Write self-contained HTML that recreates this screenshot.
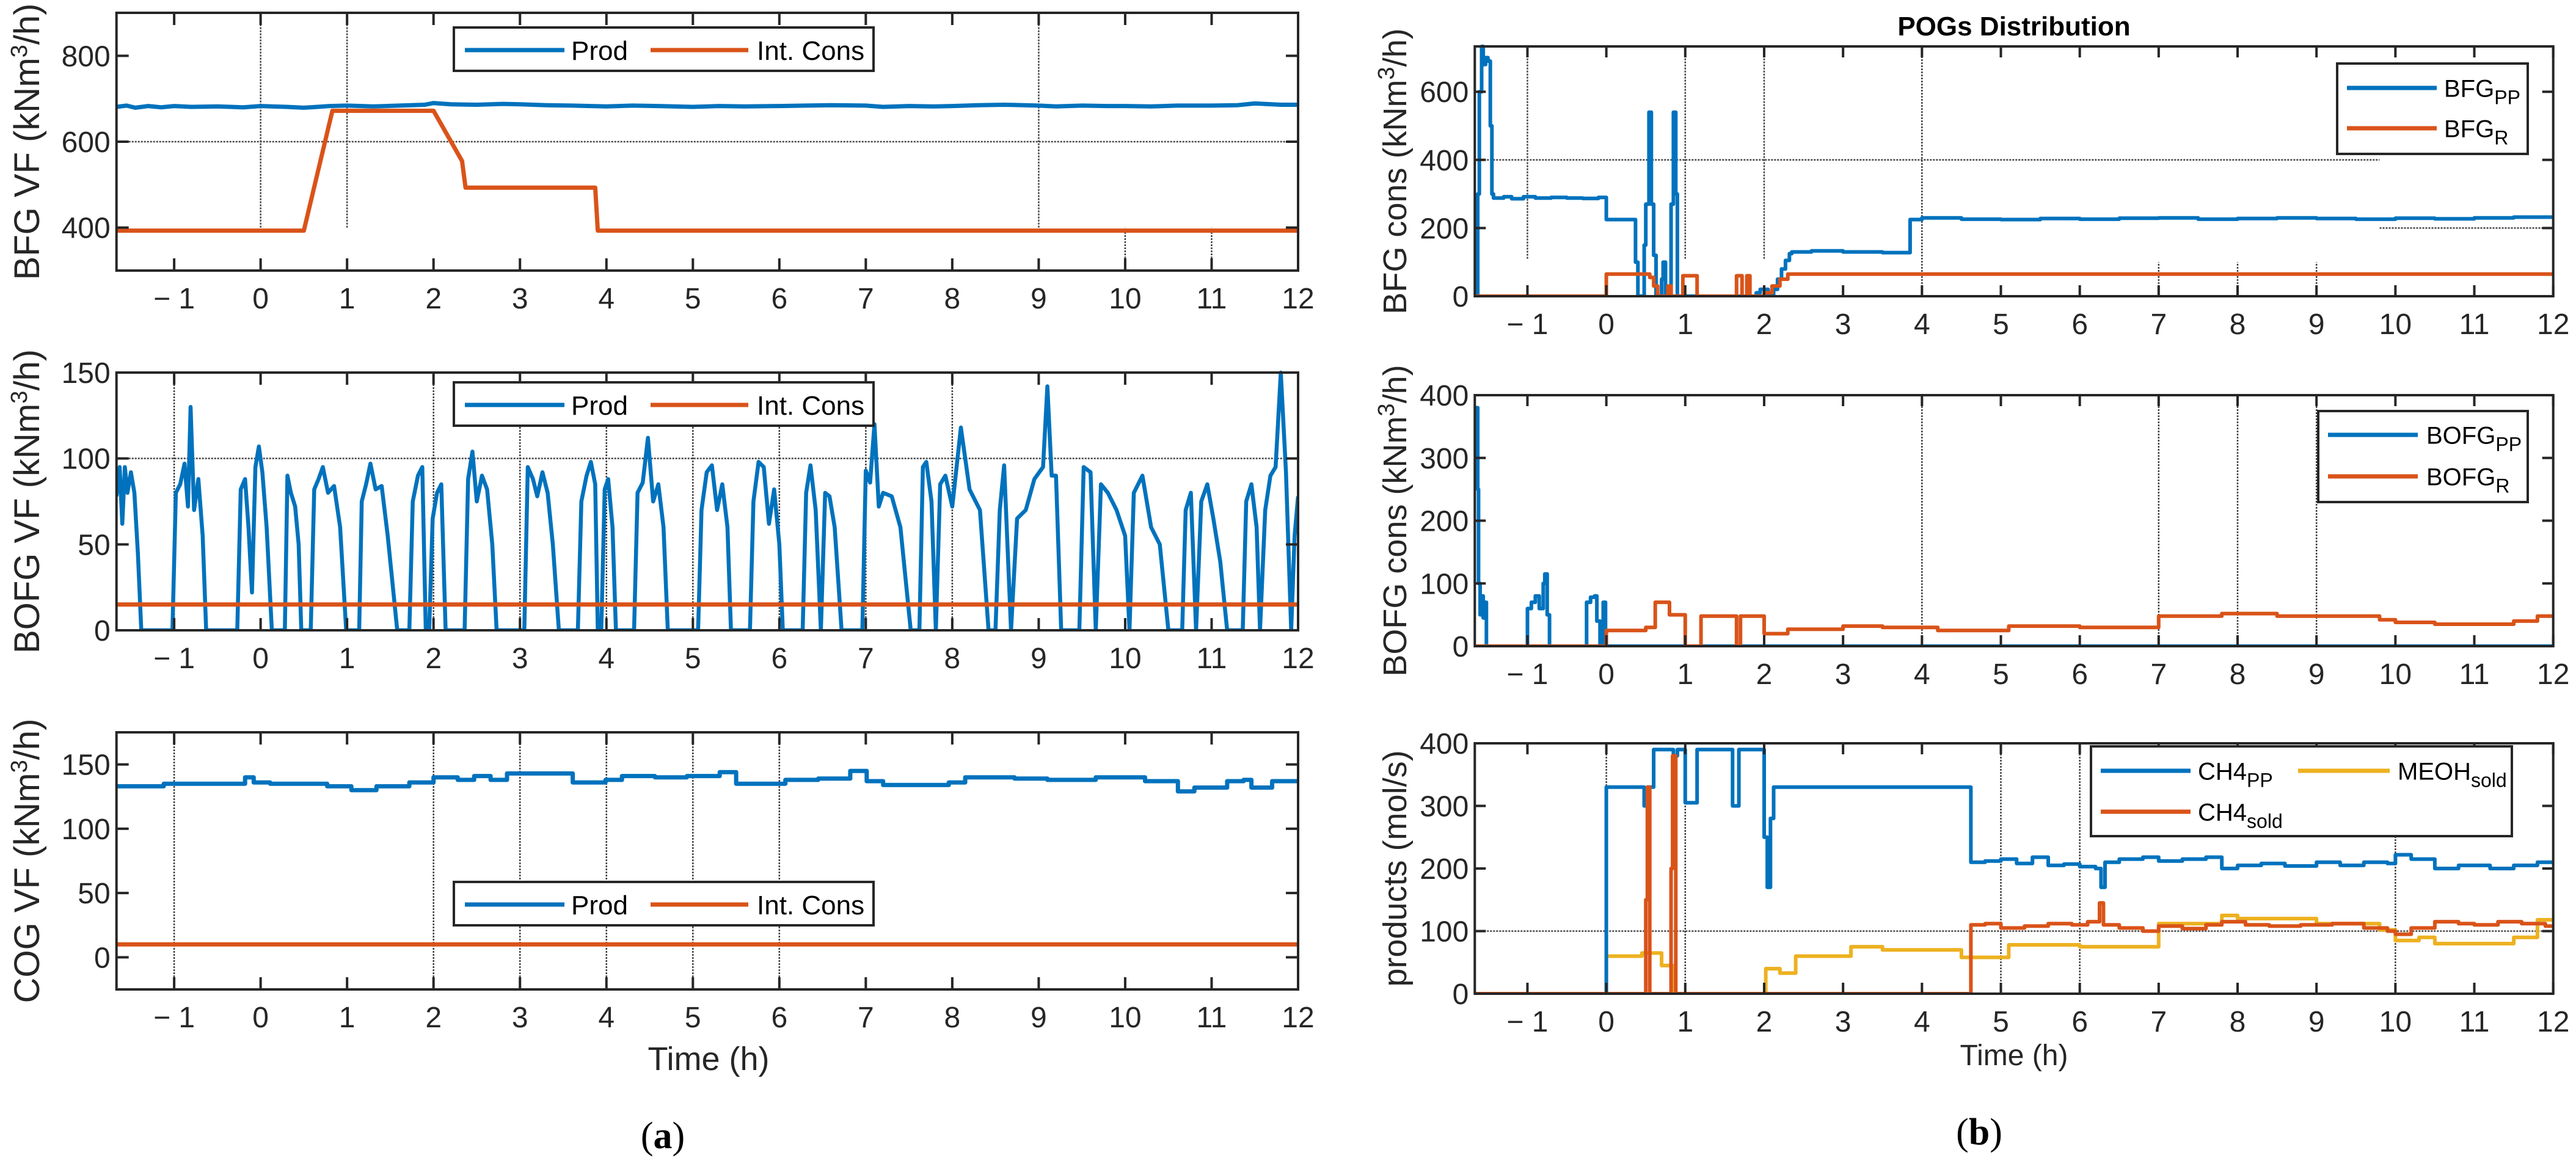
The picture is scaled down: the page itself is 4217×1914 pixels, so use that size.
<!DOCTYPE html>
<html><head><meta charset="utf-8"><style>
html,body{margin:0;padding:0;background:#fff;}
svg{display:block;font-family:"Liberation Sans",Arial,sans-serif;}
</style></head><body>
<svg id="fig" width="4217" height="1914" viewBox="0 0 4217 1914" xmlns="http://www.w3.org/2000/svg">
<rect width="4217" height="1914" fill="#fff"/>
</svg>
<script>
// ---------- data ----------
const xTicks=[-1,0,1,2,3,4,5,6,7,8,9,10,11,12];
const bfgProd=[[-1.667,681],[-1.55,684],[-1.45,679],[-1.3,683],[-1.15,680],[-1,683],[-0.8,681],[-0.5,682],[-0.2,680],[0,683],[0.3,681],[0.5,679],[0.8,683],[1,684],[1.3,682],[1.6,684],[1.9,686],[2,690],[2.2,687],[2.5,686],[2.8,688],[3,687],[3.3,685],[3.6,684],[4,682],[4.3,684],[4.6,683],[5,681],[5.3,683],[5.6,682],[6,683],[6.3,684],[6.6,685],[7,684],[7.2,681],[7.5,683],[7.8,682],[8,683],[8.3,685],[8.6,686],[9,684],[9.2,682],[9.5,684],[9.8,683],[10,683],[10.3,682],[10.6,684],[11,684],[11.3,685],[11.5,689],[11.8,686],[12,686]];
const bfgCons=[[-1.667,393],[0.5,393],[0.83,672],[2.0,672],[2.33,555],[2.37,493],[3.87,493],[3.9,393],[12,393]];
const bofgProd=[[-1.667,78],[-1.63,95],[-1.6,62],[-1.57,95],[-1.54,80],[-1.5,92],[-1.46,80],[-1.42,45],[-1.38,0],
[-1.02,0],[-0.98,80],[-0.93,85],[-0.88,97],[-0.84,72],[-0.81,130],[-0.77,70],[-0.72,88],[-0.67,55],[-0.63,0],
[-0.27,0],[-0.23,82],[-0.18,88],[-0.14,60],[-0.1,22],[-0.06,95],[-0.02,107],[0.02,92],[0.07,60],[0.13,0],
[0.28,0],[0.31,90],[0.35,80],[0.4,72],[0.44,50],[0.47,0],
[0.58,0],[0.62,82],[0.67,88],[0.72,95],[0.78,80],[0.85,84],[0.92,60],[0.99,0],
[1.14,0],[1.17,75],[1.22,85],[1.27,97],[1.33,82],[1.4,84],[1.47,55],[1.52,30],[1.58,0],
[1.72,0],[1.76,75],[1.82,90],[1.87,95],[1.91,0],
[1.95,0],[1.99,65],[2.04,80],[2.09,85],[2.14,0],
[2.36,0],[2.4,88],[2.45,104],[2.5,75],[2.56,90],[2.62,82],[2.68,50],[2.73,0],
[3.05,0],[3.09,95],[3.15,88],[3.2,78],[3.26,92],[3.32,80],[3.38,50],[3.45,0],
[3.67,0],[3.71,75],[3.77,90],[3.82,98],[3.87,85],[3.9,0],
[3.94,0],[3.98,82],[4.02,88],[4.07,60],[4.11,0],
[4.32,0],[4.36,80],[4.42,86],[4.48,112],[4.54,75],[4.6,85],[4.66,60],[4.71,0],
[5.06,0],[5.1,70],[5.16,92],[5.22,96],[5.28,70],[5.34,85],[5.4,60],[5.44,0],
[5.66,0],[5.7,75],[5.76,98],[5.82,95],[5.88,62],[5.94,82],[6.0,50],[6.04,0],
[6.27,0],[6.31,80],[6.36,96],[6.42,70],[6.48,0],[6.53,80],[6.58,78],[6.64,60],[6.72,0],
[6.96,0],[7.0,93],[7.05,86],[7.1,120],[7.15,72],[7.2,80],[7.3,78],[7.4,60],[7.52,0],
[7.62,0],[7.66,95],[7.7,98],[7.76,75],[7.81,0],[7.86,85],[7.92,90],[8.0,72],[8.1,118],[8.2,82],[8.32,70],[8.42,0],
[8.5,0],[8.55,70],[8.6,96],[8.68,0],[8.75,65],[8.85,70],[8.95,88],[9.05,95],[9.1,142],[9.15,90],[9.2,90],[9.26,0],
[9.47,0],[9.52,95],[9.6,92],[9.66,0],[9.72,85],[9.8,80],[9.9,70],[10.0,55],[10.05,0],[10.1,80],[10.2,90],[10.3,60],[10.4,50],[10.5,0],
[10.66,0],[10.7,70],[10.76,80],[10.82,0],[10.88,75],[10.95,85],[11.02,65],[11.1,40],[11.18,0],
[11.36,0],[11.4,75],[11.46,85],[11.52,60],[11.56,0],[11.62,70],[11.68,90],[11.74,95],[11.8,150],[11.86,92],[11.92,0],[11.96,55],[12.0,78]];
const bofgCons=[[-1.667,15],[12,15]];
const cogProd=[[-1.66,133],[-1.12,135],[-0.18,140],[-0.08,136],[0.11,135],[0.77,133],[1.05,130],[1.34,133],[1.72,136],[2.0,140],[2.28,138],[2.47,141],[2.66,138],[2.85,143],[3.42,143],[3.61,136],[3.99,138],[4.18,141],[4.56,140],[4.93,141],[5.31,144],[5.5,135],[5.88,135],[6.07,138],[6.45,139],[6.82,145],[7.01,137],[7.2,134],[7.58,134],[7.96,136],[8.15,140],[8.72,139],[9.1,138],[9.66,140],[10.23,137],[10.51,137],[10.61,129],[10.8,132],[11.18,137],[11.37,138],[11.46,132],[11.7,137],[12,137]];
const cogCons=[[-1.667,10],[12,10]];
const bfgPP=[[-1.667,0],[-1.63,300],[-1.61,600],[-1.58,733],[-1.56,680],[-1.53,700],[-1.5,690],[-1.47,500],[-1.45,300],[-1.43,288],[-1.3,292],[-1.2,286],[-1.05,292],[-0.9,288],[-0.7,290],[-0.5,288],[-0.3,287],[-0.1,290],[0,225],[0.37,100],[0.40,0],[0.48,150],[0.5,270],[0.54,540],[0.57,270],[0.6,120],[0.63,0],[0.7,50],[0.72,100],[0.75,0],[0.82,270],[0.85,540],[0.88,300],[0.9,0],[1.9,10],[1.95,20],[2.05,0],[2.12,20],[2.17,50],[2.22,80],[2.27,105],[2.32,125],[2.35,130],[2.6,133],[3.0,130],[3.5,128],[3.85,225],[4.0,230],[4.5,226],[5,225],[5.5,228],[6,226],[6.5,229],[7,230],[7.5,226],[8,228],[8.5,230],[9,228],[9.5,226],[10,229],[10.5,227],[11,230],[11.5,232],[12,230]];
const bfgR=[[-1.667,0],[0,65],[0.55,55],[0.6,30],[0.65,0],[0.78,30],[0.82,0],[0.97,60],[1.15,0],[1.65,60],[1.72,0],[1.78,60],[1.82,0],[2.0,10],[2.1,30],[2.2,50],[2.3,65],[12,65]];
const bofgPP=[[-1.667,300],[-1.65,380],[-1.63,250],[-1.62,100],[-1.6,50],[-1.58,80],[-1.56,45],[-1.54,70],[-1.52,0],[-1.0,60],[-0.95,70],[-0.9,80],[-0.85,60],[-0.8,100],[-0.78,115],[-0.75,50],[-0.72,0],[-0.25,70],[-0.2,78],[-0.15,80],[-0.12,40],[-0.08,0],[-0.04,70],[-0.01,0],[12,0]];
const bofgR=[[-1.667,0],[0,25],[0.5,30],[0.62,70],[0.8,50],[1.0,0],[1.2,48],[1.65,0],[1.7,48],[2.0,20],[2.3,27],[3.0,32],[3.5,30],[4.2,25],[5.1,32],[6.0,30],[7.0,48],[7.8,52],[8.5,48],[9.8,42],[10.0,38],[10.5,35],[11.5,40],[11.8,48],[12,48]];
const ch4PP=[[-1.667,0],[0,330],[0.48,300],[0.52,330],[0.6,390],[0.85,380],[0.9,390],[1.0,305],[1.15,390],[1.6,300],[1.68,390],[2.0,250],[2.04,170],[2.08,280],[2.12,330],[4.62,210],[4.8,212],[5.0,215],[5.2,208],[5.4,218],[5.6,205],[5.8,207],[6.0,203],[6.2,200],[6.27,170],[6.32,210],[6.5,215],[6.8,218],[7.0,212],[7.3,215],[7.6,218],[7.8,200],[8.0,205],[8.3,208],[8.6,204],[9.0,210],[9.3,205],[9.6,210],[9.9,208],[10.0,222],[10.2,215],[10.5,200],[10.8,205],[11.2,200],[11.5,205],[11.8,210],[12,210]];
const ch4Sold=[[-1.667,0],[0.5,150],[0.52,330],[0.55,0],[0.82,200],[0.84,380],[0.88,0],[4.62,110],[4.8,112],[5.0,105],[5.3,108],[5.6,112],[5.9,110],[6.1,115],[6.25,145],[6.3,110],[6.5,105],[6.8,100],[7.0,108],[7.3,104],[7.6,110],[7.8,115],[8.1,110],[8.4,108],[8.8,110],[9.2,112],[9.6,105],[9.9,100],[10.0,95],[10.2,105],[10.5,115],[10.8,112],[11.0,110],[11.3,115],[11.6,112],[11.9,108],[12,108]];
const meohSold=[[-1.667,0],[0,60],[0.45,65],[0.7,45],[0.85,0],[2.02,40],[2.2,33],[2.4,60],[3.1,75],[3.5,70],[4.5,58],[5.1,78],[6.0,75],[7.0,112],[7.8,125],[8.0,120],[9.0,112],[9.8,102],[10.0,85],[10.3,90],[10.5,80],[11.5,90],[11.8,118],[12,118]];

const BLUE="#0072BD", ORANGE="#D95319", YELLOW="#EDB120", INK="#262626";
const NS="http://www.w3.org/2000/svg";
const svg=document.getElementById('fig');
function el(tag,attrs,parent){const e=document.createElementNS(NS,tag);for(const k in attrs)e.setAttribute(k,attrs[k]);(parent||svg).appendChild(e);return e;}
let clipN=0;
function panel(c){
  const g=el('g',{});
  
  
  const sx=v=>c.x0+(v-c.xmin)/(c.xmax-c.xmin)*(c.x1-c.x0);
  const sy=v=>c.y1-(v-c.ymin)/(c.ymax-c.ymin)*(c.y1-c.y0);
  const gg=el('g',{stroke:'#444','stroke-width':2.5,'stroke-dasharray':'3 2',fill:'none'},g);
  
  
  (c.vgrid||[]).forEach(v=>el('line',{x1:sx(v[0]),x2:sx(v[0]),y1:sy(v[1]),y2:sy(v[2])},gg));
  (c.hgrid||[]).forEach(v=>el('line',{x1:sx(v[1]),x2:sx(v[2]),y1:sy(v[0]),y2:sy(v[0])},gg));
  clipN++;
  const cp=el('clipPath',{id:'cp'+clipN},g);
  el('rect',{x:c.x0,y:c.y0-4,width:c.x1-c.x0,height:c.y1-c.y0+4},cp);
  c.series.forEach(s=>{
    let d='';
    s.data.forEach((p,i)=>{
      const X=sx(p[0]).toFixed(1),Y=sy(p[1]).toFixed(1);
      if(i===0)d+='M'+X+' '+Y;
      else if(s.step)d+='H'+X+'V'+Y;
      else d+='L'+X+' '+Y;
    });
    const path=el('path',{d:d,fill:'none',stroke:s.color,'stroke-width':s.w||7,'stroke-linejoin':'round','clip-path':'url(#cp'+clipN+')'},g);
    
    
  });
  const box=el('rect',{x:c.x0,y:c.y0,width:c.x1-c.x0,height:c.y1-c.y0,fill:'none',stroke:INK,'stroke-width':4},g);
  
  
  const tl=c.tl||20;
  xTicks.forEach(t=>{
    const X=sx(t);
    el('line',{x1:X,x2:X,y1:c.y1,y2:c.y1-tl,stroke:INK,'stroke-width':4},g);
    el('line',{x1:X,x2:X,y1:c.y0,y2:c.y0+tl,stroke:INK,'stroke-width':4},g);
    const tx=el('text',{x:X,y:c.y1+62,'text-anchor':'middle','font-size':48,fill:INK},g);
    tx.textContent=t<0?'\u2212 '+(-t):String(t);
    
    
  });
  c.yticks.forEach(t=>{
    const Y=sy(t);
    el('line',{x1:c.x0,x2:c.x0+tl,y1:Y,y2:Y,stroke:INK,'stroke-width':4},g);
    el('line',{x1:c.x1,x2:c.x1-tl,y1:Y,y2:Y,stroke:INK,'stroke-width':4},g);
    const ty=el('text',{x:c.x0-10,y:Y+17,'text-anchor':'end','font-size':48,fill:INK},g);
    ty.textContent=String(t);
    
    
  });
  const yl=el('text',{transform:'translate('+c.ylx+','+((c.y0+c.y1)/2)+') rotate(-90)','text-anchor':'middle','font-size':c.ylfs||58,fill:INK},g);
  
  
  yl.innerHTML=c.ylabel;
  return g;
}
const L={x0:190.7,x1:2125,xmin:-1.667,xmax:12,ylx:64,tl:20,ylfs:58};
const R={x0:2414.3,x1:4179.7,xmin:-1.667,xmax:12,ylx:2302,tl:18,ylfs:54};
const kunit='(kNm<tspan dy="-20" font-size="38">3</tspan><tspan dy="20">/h)</tspan>';
panel(Object.assign({},L,{name:'bfg-vf-panel',y0:21,y1:443,ymin:300,ymax:900,yticks:[400,600,800],
  ylabel:'BFG VF '+kunit,
  vgrid:[[0,400,900],[1,400,900],[9,400,900],[10,300,400],[11,300,400]],hgrid:[[600,-1.667,12]],
  series:[{name:'bfg-prod-line',data:bfgProd,color:BLUE},{name:'bfg-int-cons-line',data:bfgCons,color:ORANGE}]}));
panel(Object.assign({},L,{name:'bofg-vf-panel',y0:610,y1:1032,ymin:0,ymax:150,yticks:[0,50,100,150],
  ylabel:'BOFG VF '+kunit,
  vgrid:[[-1,0,150],[2,0,150],[3,0,150],[4,0,150],[5,0,150],[6,0,150],[7,0,150],[8,0,150]],hgrid:[[100,-1.667,12]],
  series:[{name:'bofg-prod-line',data:bofgProd,color:BLUE,w:6.5},{name:'bofg-int-cons-line',data:bofgCons,color:ORANGE}]}));
panel(Object.assign({},L,{name:'cog-vf-panel',y0:1199,y1:1620,ymin:-25,ymax:175,yticks:[0,50,100,150],
  ylabel:'COG VF '+kunit,
  vgrid:[[-1,-25,175],[2,-25,175],[3,-25,175],[4,-25,175],[5,-25,175],[6,-25,175]],
  series:[{name:'cog-prod-line',data:cogProd,color:BLUE,step:true},{name:'cog-int-cons-line',data:cogCons,color:ORANGE}]}));
panel(Object.assign({},R,{name:'bfg-cons-panel',y0:76,y1:485,ymin:0,ymax:733,yticks:[0,200,400,600],
  ylabel:'BFG cons '+kunit,
  vgrid:[[-1,110,733],[1,110,733],[2,110,733],[4,0,733],[7,0,100],[8,0,100],[9,0,100]],hgrid:[[400,-1.667,9.8],[200,9.8,12]],
  series:[{name:'bfg-pp-line',data:bfgPP,color:BLUE,step:true,w:6},{name:'bfg-r-line',data:bfgR,color:ORANGE,step:true,w:6}]}));
panel(Object.assign({},R,{name:'bofg-cons-panel',y0:647,y1:1058,ymin:0,ymax:400,yticks:[0,100,200,300,400],
  ylabel:'BOFG cons '+kunit,
  vgrid:[[4,0,400],[7,0,400],[8,0,400],[9,0,400]],
  series:[{name:'bofg-pp-line',data:bofgPP,color:BLUE,step:true,w:6},{name:'bofg-r-line',data:bofgR,color:ORANGE,step:true,w:6}]}));
panel(Object.assign({},R,{name:'products-panel',y0:1217,y1:1627,ymin:0,ymax:400,yticks:[0,100,200,300,400],
  ylabel:'products (mol/s)',
  vgrid:[[0,0,400],[1,0,400],[5,0,400],[6,0,400],[10,0,400]],hgrid:[[100,-1.667,12]],
  series:[{name:'meoh-sold-line',data:meohSold,color:YELLOW,step:true,w:6},{name:'ch4-pp-line',data:ch4PP,color:BLUE,step:true,w:6},{name:'ch4-sold-line',data:ch4Sold,color:ORANGE,step:true,w:6}]}));

function legend(name,x,y,w,h,entries,fs){
  const g=el('g',{});
  
  
  el('rect',{x:x,y:y,width:w,height:h,fill:'#fff',stroke:INK,'stroke-width':4},g);
  entries.forEach(e=>{
    el('line',{x1:e.lx1,x2:e.lx2,y1:e.ly,y2:e.ly,stroke:e.color,'stroke-width':7},g);
    const t=el('text',{x:e.tx,y:e.ly+fs*0.36,'font-size':fs,fill:'#000'},g);
    t.innerHTML=e.label;
    
    
  });
}
[[45,'bfg-legend'],[626,'bofg-legend'],[1444,'cog-legend']].forEach(p=>{
  const ly=p[0]+37;
  legend(p[1],743,p[0],687,71,[{lx1:761,lx2:924,ly:ly,color:BLUE,tx:935,label:'Prod'},{lx1:1065,lx2:1225,ly:ly,color:ORANGE,tx:1239,label:'Int. Cons'}],44);
});
const sub=(a,b)=>a+'<tspan dy="12" font-size="32">'+b+'</tspan>';
legend('bfg-cons-legend',3826,104,312,148,[{lx1:3842,lx2:3989,ly:144,color:BLUE,tx:4001,label:sub('BFG','PP')},{lx1:3842,lx2:3989,ly:210,color:ORANGE,tx:4001,label:sub('BFG','R')}],40);
legend('bofg-cons-legend',3795,673,343,149,[{lx1:3811,lx2:3958,ly:712,color:BLUE,tx:3972,label:sub('BOFG','PP')},{lx1:3811,lx2:3958,ly:780,color:ORANGE,tx:3972,label:sub('BOFG','R')}],40);
legend('products-legend',3423,1222,689,147,[{lx1:3439,lx2:3586,ly:1262,color:BLUE,tx:3598,label:sub('CH4','PP')},{lx1:3439,lx2:3586,ly:1329,color:ORANGE,tx:3598,label:sub('CH4','sold')},{lx1:3762,lx2:3912,ly:1262,color:YELLOW,tx:3925,label:sub('MEOH','sold')}],40);

function txt(name,x,y,s,attrs){const t=el('text',Object.assign({x:x,y:y,'text-anchor':'middle',fill:'#000'},attrs));t.innerHTML=s;return t;}
txt('chart-title',3297,58,'POGs Distribution',{'font-size':44,'font-weight':'bold'});
txt('x-axis-title-a',1160,1752,'Time (h)',{'font-size':54,fill:INK});
txt('x-axis-title-b',3297,1744,'Time (h)',{'font-size':48,fill:INK});
txt('panel-label-a',1085,1880,'(<tspan font-weight="bold">a</tspan>)',{'font-size':62,'font-family':'"Liberation Serif",serif'});
txt('panel-label-b',3240,1874,'(<tspan font-weight="bold">b</tspan>)',{'font-size':62,'font-family':'"Liberation Serif",serif'});
</script>
</body></html>
